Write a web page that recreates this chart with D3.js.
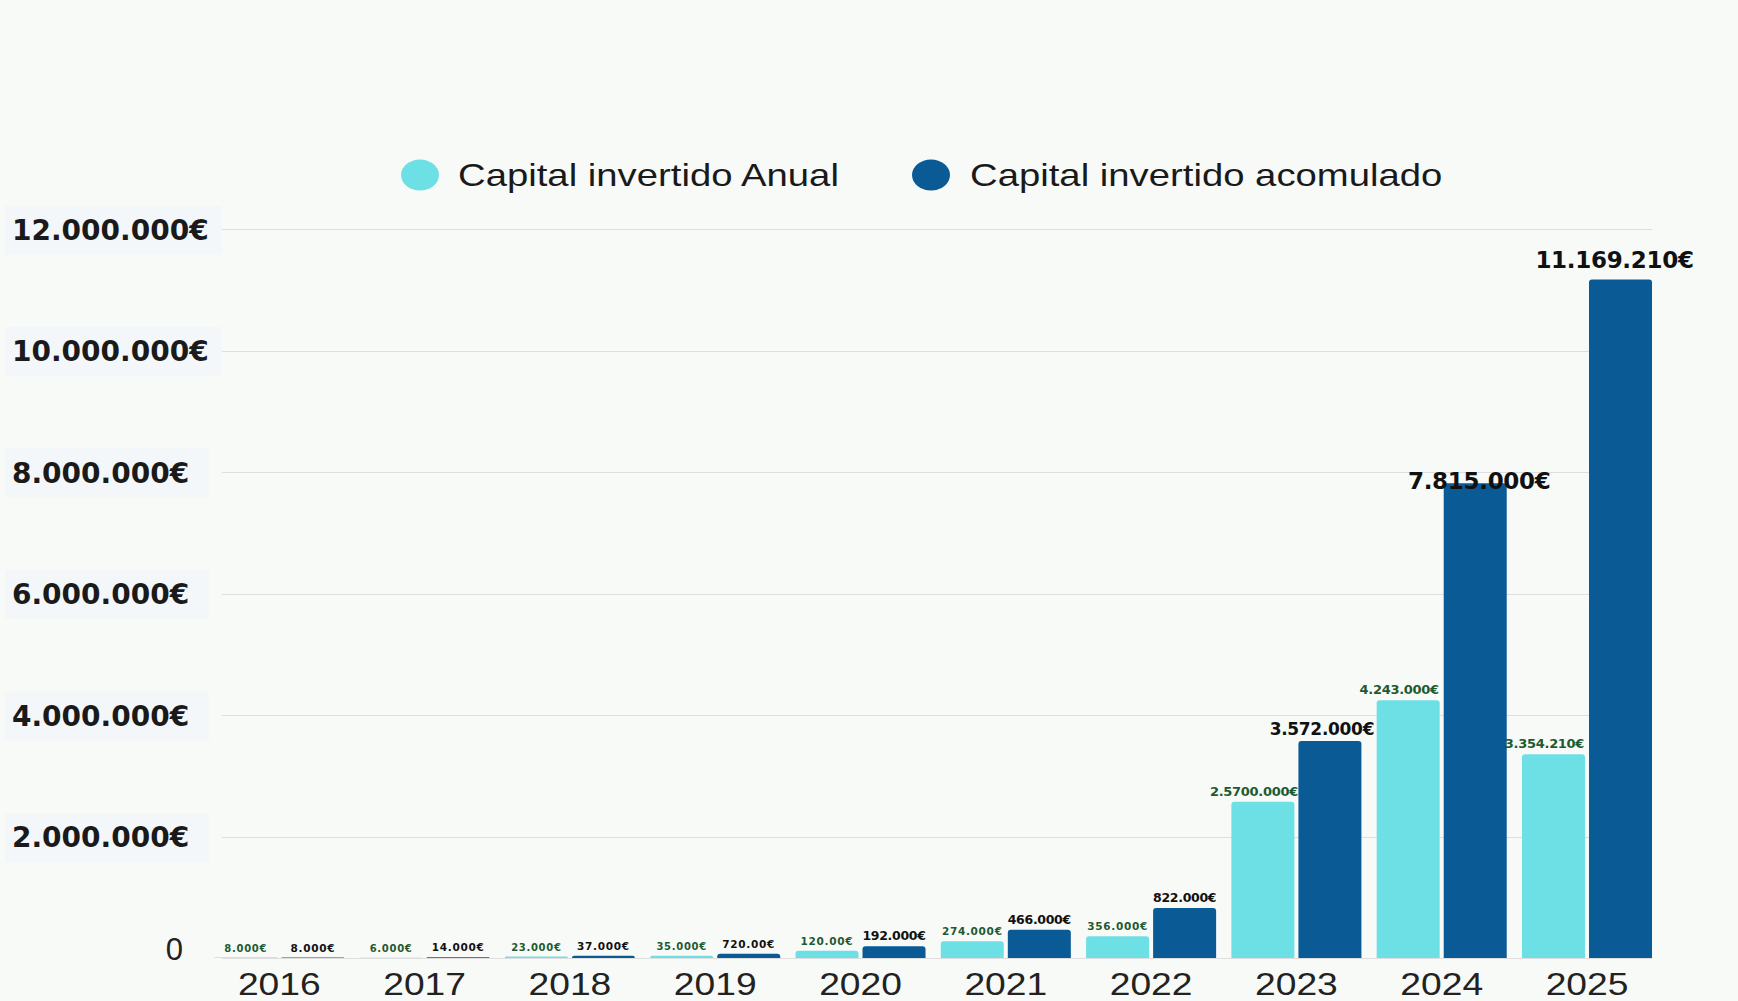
<!DOCTYPE html>
<html>
<head>
<meta charset="utf-8">
<script src="https://cdn.jsdelivr.net/npm/d3@7"></script>
<style>
  html, body { margin: 0; padding: 0; background: #f8faf8; }
  svg { display: block; }
</style>
</head>
<body>
<svg id="chart" width="1738" height="1001"></svg>
<script>
// ---- DATA ----
const years = ["2016","2017","2018","2019","2020","2021","2022","2023","2024","2025"];
const anual = [8000, 6000, 23000, 35000, 120000, 274000, 356000, 2570000, 4243000, 3354210];
const acumulado = [8000, 14000, 37000, 72000, 192000, 466000, 822000, 3572000, 7815000, 11169210];
const anualLabels = ["8.000€","6.000€","23.000€","35.000€","120.00€","274.000€","356.000€","2.5700.000€","4.243.000€","3.354.210€"];
const acumLabels = ["8.000€","14.000€","37.000€","720.00€","192.000€","466.000€","822.000€","3.572.000€","7.815.000€","11.169.210€"];
const yTicks = [0, 2000000, 4000000, 6000000, 8000000, 10000000, 12000000];
const yTickLabels = ["0","2.000.000€","4.000.000€","6.000.000€","8.000.000€","10.000.000€","12.000.000€"];
const seriesNames = ["Capital invertido Anual", "Capital invertido acomulado"];

// ---- LAYOUT ----
const colors = ["#6de0e6", "#0a5a96"];
const svg = d3.select("#chart");
const plotLeft = 206.65, plotRight = 1659.65, plotTop = 229, plotBottom = 958;

const x0 = d3.scaleBand().domain(years).range([plotLeft, plotRight])
  .paddingInner(0.105).paddingOuter(0.0525);
const x1 = d3.scaleBand().domain([0, 1]).range([0, x0.bandwidth()]).paddingInner(0.06);
const y = d3.scaleLinear().domain([0, 12000000]).range([plotBottom, plotTop]);

// gridlines
svg.append("g").selectAll("line").data(yTicks).join("line")
  .attr("x1", 222).attr("x2", 1652)
  .attr("y1", d => Math.round(y(d)) + 0.5).attr("y2", d => Math.round(y(d)) + 0.5)
  .attr("stroke", "#dedede").attr("stroke-width", 1);

// y axis
const yAxis = d3.axisLeft(y).tickValues(yTicks)
  .tickFormat((d, i) => yTickLabels[i]).tickSize(0).tickPadding(0);
const yg = svg.append("g").attr("transform", "translate(196,0)").call(yAxis);
yg.select(".domain").remove();
yg.selectAll(".tick").each(function(d) {
  const t = d3.select(this).select("text");
  if (d === 0) {
    t.attr("font-family", "'Liberation Sans', Arial, sans-serif")
     .attr("font-size", 31).attr("font-weight", "normal")
     .attr("x", -13).attr("dy", "0.05em").attr("fill", "#222");
  } else {
    t.attr("font-family", "'DejaVu Sans', sans-serif")
     .attr("font-size", 28).attr("font-weight", "bold").attr("fill", "#1a1a1a")
     .attr("text-anchor", "start").attr("x", -184)
     .attr("dy", "0.36em");
    const bb = this.getBBox();
    d3.select(this).insert("rect", "text")
      .attr("x", -191).attr("y", bb.y - 8).attr("width", bb.width + 20).attr("height", bb.height + 16)
      .attr("fill", "#f3f7fa");
  }
});

// bars
function topRounded(x, yTop, w, h, r) {
  r = Math.min(r, h, w / 2);
  if (h <= 0) return "";
  return `M${x},${yTop + h}V${yTop + r}Q${x},${yTop} ${x + r},${yTop}H${x + w - r}Q${x + w},${yTop} ${x + w},${yTop + r}V${yTop + h}Z`;
}
const series = [anual, acumulado];
const groups = svg.append("g").selectAll("g").data(years).join("g")
  .attr("transform", d => `translate(${x0(d)},0)`);
groups.selectAll("path").data((d, i) => series.map((s, k) => ({k, v: s[i]}))).join("path")
  .attr("d", d => topRounded(x1(d.k), y(d.v), x1.bandwidth(), plotBottom - y(d.v), 3))
  .attr("fill", d => colors[d.k]);

// value labels
function labelSize(k, v) {
  if (k === 1) return v >= 7e6 ? 23 : v >= 3e6 ? 17 : v >= 150000 ? 12.5 : 10.5;
  return v >= 2e6 ? 13 : v >= 100000 ? 10.5 : 10;
}
function labelShift(k, v) {
  if (k === 0 && v >= 2e6) return -9;
  if (k === 1 && v >= 3e6 && v < 7e6) return -8;
  if (k === 1 && v >= 7e6 && v < 1e7) return 4;
  if (k === 1 && v >= 1e7) return -6;
  return 0;
}
function labelGap(k, v) {
  if (k === 1 && v >= 7e6 && v < 1e7) return -6;
  if (k === 1 && v >= 1e7) return 11;
  return 6;
}
const labelTexts = [anualLabels, acumLabels];
groups.selectAll("text").data((d, i) => series.map((s, k) => ({k, v: s[i], t: labelTexts[k][i]}))).join("text")
  .attr("x", d => x1(d.k) + x1.bandwidth() / 2 + labelShift(d.k, d.v))
  .attr("y", d => y(d.v) - labelGap(d.k, d.v))
  .attr("text-anchor", "middle")
  .attr("font-family", "'DejaVu Sans', sans-serif")
  .attr("font-weight", "bold")
  .attr("font-size", d => labelSize(d.k, d.v))
  .attr("letter-spacing", d => labelSize(d.k, d.v) < 11 ? 0.7 : -0.3)
  .attr("fill", d => d.k === 0 ? "#1e5a30" : "#111")
  .text(d => d.t);

// x axis
const xAxis = d3.axisBottom(x0).tickSize(0).tickPadding(0);
const xg = svg.append("g").attr("transform", `translate(0,${plotBottom})`).call(xAxis);
xg.select(".domain").remove();
xg.selectAll(".tick text")
  .attr("y", 37).attr("dy", 0)
  .attr("font-family", "'Liberation Sans', Arial, sans-serif")
  .attr("font-size", 31).attr("fill", "#222")
  .attr("transform", "scale(1.2,1)");

// legend
const legendPos = [{cx: 420, tx: 458}, {cx: 931, tx: 970}];
const lg = svg.append("g").selectAll("g").data(seriesNames).join("g");
lg.append("ellipse")
  .attr("cx", (d, i) => legendPos[i].cx).attr("cy", 175)
  .attr("rx", 19).attr("ry", 15.5)
  .attr("fill", (d, i) => colors[i]);
lg.append("text")
  .attr("transform", (d, i) => `translate(${legendPos[i].tx},186) scale(1.235,1)`)
  .attr("font-family", "'Liberation Sans', Arial, sans-serif")
  .attr("font-size", 31).attr("fill", "#1a1a1a")
  .text(d => d);
</script>
</body>
</html>
